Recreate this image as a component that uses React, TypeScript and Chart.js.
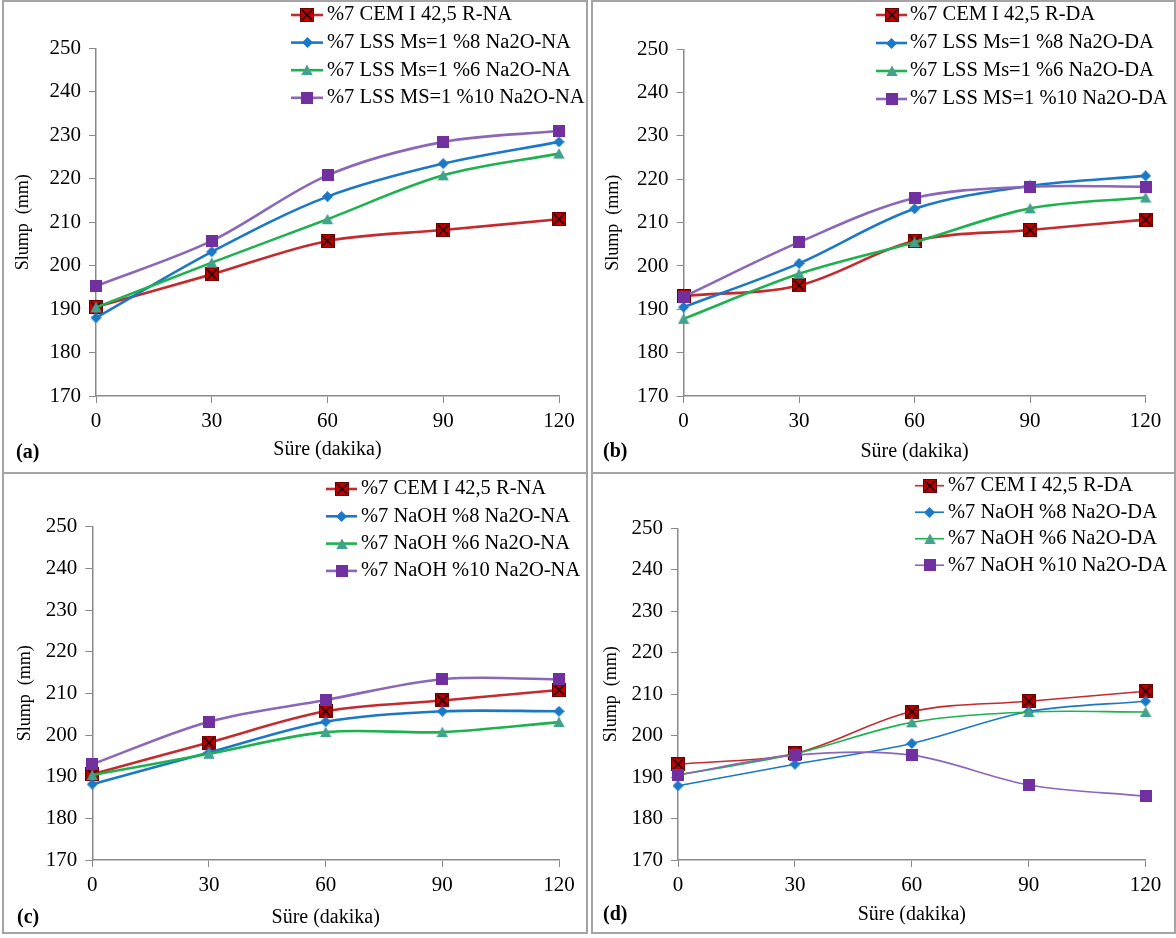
import React, { useEffect, useRef } from 'react';
import { Chart, registerables } from 'chart.js';

Chart.register(...registerables);

const FONT = "'Liberation Serif', 'Times New Roman', serif";

// ---------- data ----------
const TIME_LABELS = ['0', '30', '60', '90', '120'];
const Y_MIN = 170;
const Y_MAX = 250;
const Y_STEP = 10;
const X_TITLE = 'Süre (dakika)';
const Y_TITLE = 'Slump  (mm)';

const aLabels = ['%7 CEM I 42,5 R-NA', '%7 LSS Ms=1 %8 Na2O-NA', '%7 LSS Ms=1 %6 Na2O-NA', '%7 LSS MS=1 %10 Na2O-NA'];
const aCem = [190.5, 198.0, 205.7, 208.2, 210.7];
const aLss8 = [188.0, 203.2, 215.9, 223.5, 228.5];
const aLss6 = [190.4, 200.7, 210.7, 220.8, 225.8];
const aLss10 = [195.3, 205.7, 220.8, 228.5, 231.0];

const bLabels = ['%7 CEM I 42,5 R-DA', '%7 LSS Ms=1 %8 Na2O-DA', '%7 LSS Ms=1 %6 Na2O-DA', '%7 LSS MS=1 %10 Na2O-DA'];
const bCem = [193.1, 195.5, 205.8, 208.3, 210.7];
const bLss8 = [190.5, 200.6, 213.2, 218.5, 220.8];
const bLss6 = [187.8, 198.2, 205.5, 213.3, 215.8];
const bLss10 = [192.9, 205.5, 215.7, 218.3, 218.3];

const cLabels = ['%7 CEM I 42,5 R-NA', '%7 NaOH %8 Na2O-NA', '%7 NaOH %6 Na2O-NA', '%7 NaOH %10 Na2O-NA'];
const cCem = [190.6, 198.2, 205.7, 208.3, 210.8];
const cNaoh8 = [188.2, 195.8, 203.2, 205.7, 205.7];
const cNaoh6 = [190.4, 195.5, 200.7, 200.7, 203.1];
const cNaoh10 = [193.0, 203.2, 208.4, 213.4, 213.4];

const dLabels = ['%7 CEM I 42,5 R-DA', '%7 NaOH %8 Na2O-DA', '%7 NaOH %6 Na2O-DA', '%7 NaOH %10 Na2O-DA'];
const dCem = [193.1, 195.7, 205.8, 208.3, 210.7];
const dNaoh8 = [187.9, 193.1, 198.1, 205.8, 208.3];
const dNaoh6 = [190.5, 195.6, 203.2, 205.7, 205.7];
const dNaoh10 = [190.5, 195.3, 195.3, 188.1, 185.4];

// ---------- styles ----------
const LINE_COLORS = ['#C42A2E', '#1A78C6', '#1DB14F', '#8A67B8'];
const MARKER_FILLS = ['#C00000', '#1A78C6', '#43A28C', '#7030A0'];
const MARKER_KINDS = ['sqx', 'diamond', 'tri', 'sq'];
const AXIS_COLOR = '#8a8a8a';
const BORDER_COLOR = '#a4a4a4';

function makeMarker(kind: string, fill: string): HTMLCanvasElement {
  const size = kind === 'sqx' ? 14 : kind === 'sq' ? 12 : kind === 'diamond' ? 11 : 12;
  const c = document.createElement('canvas');
  c.width = size;
  c.height = size;
  const g = c.getContext('2d') as CanvasRenderingContext2D;
  g.fillStyle = fill;
  if (kind === 'sqx') {
    g.fillRect(0, 0, size, size);
    g.strokeStyle = '#6a0000';
    g.lineWidth = 1;
    g.strokeRect(0.5, 0.5, size - 1, size - 1);
    g.strokeStyle = '#000';
    g.lineWidth = 1.4;
    g.beginPath();
    g.moveTo(2, 2);
    g.lineTo(size - 2, size - 2);
    g.moveTo(size - 2, 2);
    g.lineTo(2, size - 2);
    g.stroke();
  } else if (kind === 'sq') {
    g.fillRect(0, 0, size, size);
  } else if (kind === 'diamond') {
    g.beginPath();
    g.moveTo(size / 2, 0);
    g.lineTo(size, size / 2);
    g.lineTo(size / 2, size);
    g.lineTo(0, size / 2);
    g.closePath();
    g.fill();
  } else {
    g.beginPath();
    g.moveTo(size / 2, 0.5);
    g.lineTo(size - 0.3, size - 1);
    g.lineTo(0.3, size - 1);
    g.closePath();
    g.fill();
  }
  return c;
}

const floatLegend = {
  id: 'floatLegend',
  afterDraw(chart: any, _args: any, opts: any) {
    const ctx = chart.ctx as CanvasRenderingContext2D;
    ctx.save();
    chart.data.datasets.forEach((ds: any, i: number) => {
      const y = opts.y + i * opts.dy;
      ctx.strokeStyle = ds.borderColor;
      ctx.lineWidth = ds.borderWidth;
      ctx.beginPath();
      ctx.moveTo(opts.x, y);
      ctx.lineTo(opts.x + opts.lineLen, y);
      ctx.stroke();
      const img = ds.pointStyle as HTMLCanvasElement;
      ctx.drawImage(img, Math.round(opts.x + opts.lineLen / 2 - img.width / 2), Math.round(y - img.height / 2));
      ctx.fillStyle = '#000';
      ctx.font = `${opts.size}px ${FONT}`;
      ctx.textBaseline = 'middle';
      ctx.textAlign = 'left';
      ctx.fillText(ds.label, opts.x + opts.lineLen + opts.gap, y);
    });
    ctx.font = `bold ${opts.tagSize}px ${FONT}`;
    ctx.fillStyle = '#000';
    ctx.textBaseline = 'middle';
    ctx.textAlign = 'left';
    ctx.fillText(opts.tag, opts.tagX, opts.tagY);
    ctx.restore();
  },
};

type PanelDef = {
  tag: string;
  box: [number, number, number, number];
  area: { left: number; right: number; top: number; bottom: number };
  xTitleY: number;
  yTitleX: number;
  legend: { x: number; y: number; dy: number; lineLen: number; gap: number };
  tagPos: [number, number];
  labels: string[];
  series: number[][];
  lineWidth: number;
};

const BW = 2;

const PANELS: PanelDef[] = [
  {
    tag: '(a)', box: [2, 0, 586, 474],
    area: { left: 92, right: 555, top: 46.5, bottom: 394 },
    xTitleY: 448, yTitleX: 19.5,
    legend: { x: 287, y: 13, dy: 27.6, lineLen: 32, gap: 4 },
    tagPos: [12, 451],
    labels: aLabels, series: [aCem, aLss8, aLss6, aLss10], lineWidth: 2.6,
  },
  {
    tag: '(b)', box: [591, 0, 585, 474],
    area: { left: 90.6, right: 552.6, top: 47.3, bottom: 394 },
    xTitleY: 449.7, yTitleX: 20.5,
    legend: { x: 283, y: 13, dy: 28, lineLen: 31, gap: 3 },
    tagPos: [10, 450],
    labels: bLabels, series: [bCem, bLss8, bLss6, bLss10], lineWidth: 2.6,
  },
  {
    tag: '(c)', box: [2, 472, 586, 462],
    area: { left: 88.3, right: 555, top: 52.7, bottom: 386 },
    xTitleY: 444, yTitleX: 21,
    legend: { x: 322, y: 15, dy: 27.3, lineLen: 31, gap: 4 },
    tagPos: [13, 444],
    labels: cLabels, series: [cCem, cNaoh8, cNaoh6, cNaoh10], lineWidth: 2.6,
  },
  {
    tag: '(d)', box: [591, 472, 585, 462],
    area: { left: 85, right: 552.6, top: 54.3, bottom: 386 },
    xTitleY: 441, yTitleX: 18.5,
    legend: { x: 322, y: 11.7, dy: 26.5, lineLen: 29, gap: 4 },
    tagPos: [10, 441],
    labels: dLabels, series: [dCem, dNaoh8, dNaoh6, dNaoh10], lineWidth: 1.6,
  },
];

const TICK_SIZE = 21;
const XTITLE_SIZE = 20;
const YTITLE_SIZE = 18;
const LEGEND_SIZE = 20.5;
const TAG_SIZE = 20;

function Panel({ def }: { def: PanelDef }) {
  const ref = useRef<HTMLCanvasElement | null>(null);
  const cw = def.box[2] - 2 * BW;
  const ch = def.box[3] - 2 * BW;

  useEffect(() => {
    const canvas = ref.current;
    if (!canvas) return;
    const markers = MARKER_KINDS.map((k, i) => makeMarker(k, MARKER_FILLS[i]));
    const xlh = XTITLE_SIZE * 1.2;
    const ylh = YTITLE_SIZE * 1.2;
    const chart = new Chart(canvas, {
      type: 'line',
      data: {
        labels: TIME_LABELS,
        datasets: def.series.map((s, i) => ({
          label: def.labels[i],
          data: s,
          borderColor: LINE_COLORS[i],
          backgroundColor: MARKER_FILLS[i],
          borderWidth: def.lineWidth,
          pointStyle: markers[i],
          pointRadius: 5,
          pointHoverRadius: 5,
          tension: 0.33,
          fill: false,
          order: 3 - i,
          clip: false as any,
        })),
      },
      options: {
        responsive: false,
        animation: false,
        devicePixelRatio: 1,
        events: [],
        layout: {
          padding: { left: 0, bottom: 0, top: def.area.top, right: cw - def.area.right },
        },
        plugins: {
          legend: { display: false },
          tooltip: { enabled: false },
          floatLegend: {
            ...def.legend,
            size: LEGEND_SIZE,
            tag: def.tag,
            tagSize: TAG_SIZE,
            tagX: def.tagPos[0],
            tagY: def.tagPos[1],
          },
        } as any,
        scales: {
          x: {
            type: 'category',
            offset: false,
            grid: {
              offset: false,
              drawOnChartArea: false,
              drawTicks: true,
              tickLength: 7,
              color: AXIS_COLOR,
              lineWidth: 1,
            },
            border: { display: true, color: AXIS_COLOR, width: 1.5 },
            ticks: {
              font: { family: FONT, size: TICK_SIZE },
              color: '#000',
              padding: 6,
              maxRotation: 0,
              autoSkip: false,
            },
            title: {
              display: true,
              text: X_TITLE,
              font: { family: FONT, size: XTITLE_SIZE },
              color: '#000',
              padding: { top: 0, bottom: ch - def.xTitleY - xlh / 2 },
            },
            afterFit: (s: any) => {
              s.height = ch - def.area.bottom;
            },
          },
          y: {
            type: 'linear',
            min: Y_MIN,
            max: Y_MAX,
            grid: {
              drawOnChartArea: false,
              drawTicks: true,
              tickLength: 7,
              color: AXIS_COLOR,
              lineWidth: 1,
            },
            border: { display: true, color: AXIS_COLOR, width: 1.5 },
            ticks: {
              stepSize: Y_STEP,
              font: { family: FONT, size: TICK_SIZE },
              color: '#000',
              padding: 8,
            },
            title: {
              display: true,
              text: Y_TITLE,
              font: { family: FONT, size: YTITLE_SIZE },
              color: '#000',
              padding: { top: def.yTitleX - ylh / 2, bottom: 0 },
            },
            afterFit: (s: any) => {
              s.width = def.area.left;
            },
          },
        } as any,
      },
      plugins: [floatLegend as any],
    });
    return () => chart.destroy();
  }, [def, cw, ch]);

  return (
    <div
      style={{
        position: 'absolute',
        left: def.box[0],
        top: def.box[1],
        width: def.box[2],
        height: def.box[3],
        boxSizing: 'border-box',
        border: `${BW}px solid ${BORDER_COLOR}`,
        background: '#fff',
      }}
    >
      <canvas
        ref={ref}
        width={cw}
        height={ch}
        style={{ position: 'absolute', left: 0, top: 0, width: cw, height: ch, display: 'block' }}
      />
    </div>
  );
}

export default function App() {
  return (
    <div
      style={{
        position: 'absolute',
        left: 0,
        top: 0,
        width: 1176,
        height: 938,
        background: '#fff',
        overflow: 'hidden',
      }}
    >
      {PANELS.map((p) => (
        <Panel key={p.tag} def={p} />
      ))}
    </div>
  );
}
